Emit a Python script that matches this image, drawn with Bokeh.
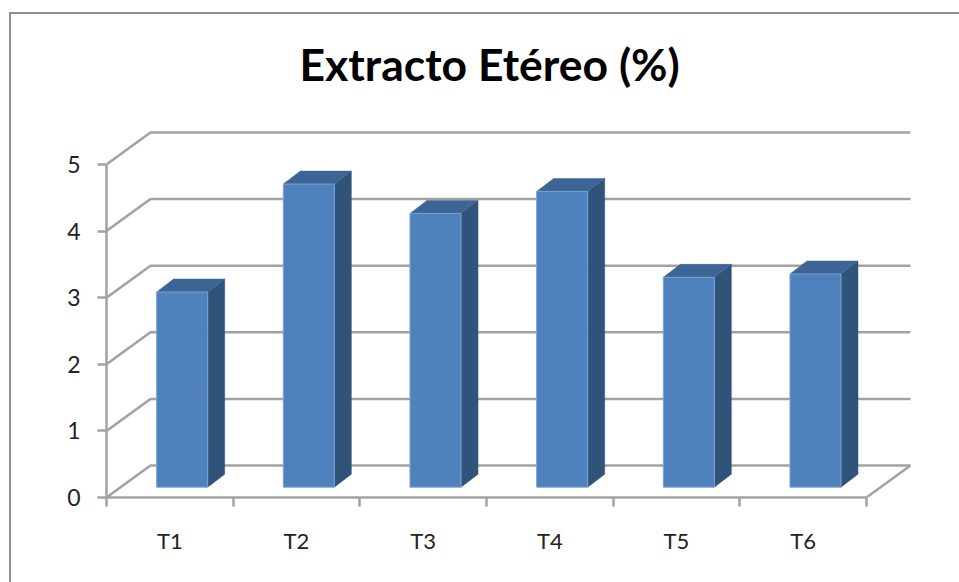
from bokeh.plotting import figure
from bokeh.embed import file_html
from bokeh.resources import INLINE
from bokeh.models import Range1d, FixedTicker, Title, LinearAxis

categories = ["T1", "T2", "T3", "T4", "T5", "T6"]
values = [2.93, 4.55, 4.11, 4.44, 3.15, 3.20]
y_ticks = [0, 1, 2, 3, 4, 5]
title_text = "Extracto Etéreo (%)"

FONT = "Lato"
GRID = "#a2a2a2"
FRONT = "#4f81bd"
TOP = "#3c6595"
SIDE = "#305379"
TEXT = "#222222"

# 3D projection constants, in data units
WALL_DX, WALL_DY = 0.347, 0.48
BAR_DX, BAR_DY = 0.134, 0.195
BAR_LEFT, BAR_W = 0.396, 0.403
BASE = 0.155
N = len(categories)

p = figure(width=943, height=566, output_backend="svg", toolbar_location=None,
           x_range=Range1d(0, 6.608), y_range=Range1d(0, 6.05),
           min_border_left=106, min_border_right=0, min_border_top=94, min_border_bottom=69,
           x_axis_type=None, y_axis_type=None, outline_line_color=None,
           background_fill_color="white", border_fill_color="white")
p.grid.visible = False

# Chart border (open towards the right and the bottom, as in the crop)
p.stylesheets = [":host::before{content:'';position:absolute;left:9px;top:12px;right:-20px;bottom:-20px;"
                 "border-left:2px solid #8e8e8e;border-top:2px solid #8e8e8e;z-index:10;pointer-events:none;}"]

# Title
p.title = Title(text=title_text, text_font=FONT, text_font_size="44.5px", text_font_style="bold",
                text_color="#000000", align="left", offset=193, standoff=9)

# Axes
ax_y = LinearAxis(ticker=FixedTicker(ticks=y_ticks), bounds=(0, 5))
ax_y.major_tick_out = 9
ax_y.major_tick_in = 0
ax_y.major_label_standoff = 17
p.add_layout(ax_y, "left")

ax_x = LinearAxis(ticker=FixedTicker(ticks=[i + 0.5 for i in range(N)], minor_ticks=list(range(N + 1))),
                  bounds=(0, N))
ax_x.major_tick_out = 0
ax_x.major_tick_in = 0
ax_x.minor_tick_out = 9
ax_x.minor_tick_in = 0
ax_x.major_label_overrides = {i + 0.5: c for i, c in enumerate(categories)}
ax_x.major_label_standoff = 20
p.add_layout(ax_x, "below")

for a in (ax_x, ax_y):
    a.axis_line_color = GRID
    a.axis_line_width = 2.5
    a.major_tick_line_color = GRID
    a.major_tick_line_width = 2.5
    a.minor_tick_line_color = GRID
    a.minor_tick_line_width = 2.5
    a.major_label_text_font = FONT
    a.major_label_text_color = TEXT
ax_y.major_label_text_font_size = "23px"
ax_x.major_label_text_font_size = "22px"

# Back wall and floor lines
for v in y_ticks:
    p.line([0, WALL_DX, N + WALL_DX], [v, v + WALL_DY, v + WALL_DY], line_color=GRID, line_width=2.5)
p.line([N, N + WALL_DX], [0, WALL_DY], line_color=GRID, line_width=2.5)

# 3D bars
front_x, front_y, top_x, top_y, side_x, side_y = [], [], [], [], [], []
for i, v in enumerate(values):
    x0, x1 = i + BAR_LEFT, i + BAR_LEFT + BAR_W
    y0, y1 = BASE, BASE + v
    front_x.append([x0, x1, x1, x0]); front_y.append([y0, y0, y1, y1])
    top_x.append([x0, x1, x1 + BAR_DX, x0 + BAR_DX]); top_y.append([y1, y1, y1 + BAR_DY, y1 + BAR_DY])
    side_x.append([x1, x1 + BAR_DX, x1 + BAR_DX, x1]); side_y.append([y0, y0 + BAR_DY, y1 + BAR_DY, y1])
p.patches(side_x, side_y, fill_color=SIDE, line_color=SIDE, line_width=0.5)
p.patches(top_x, top_y, fill_color=TOP, line_color=TOP, line_width=0.5)
p.patches(front_x, front_y, fill_color=FRONT, line_color="#7ba3d3", line_width=1)

open("out.html", "w").write(file_html(p, INLINE))
